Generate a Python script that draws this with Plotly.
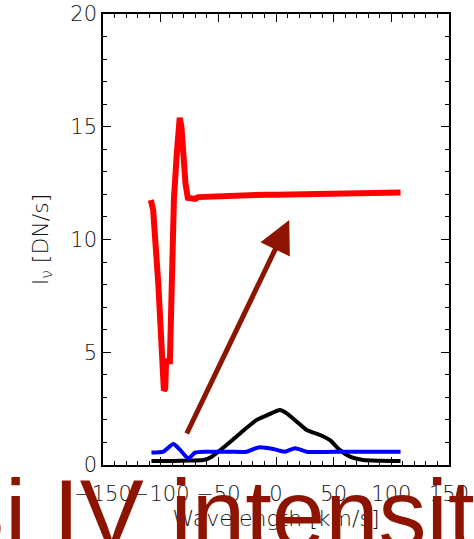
import plotly.graph_objects as go

# Data
red_x = [-108.5, -106.5, -102, -98.2, -97.2, -96, -95.3, -92, -89.5, -88.5, -86, -83.5, -82, -80, -78.5,
         -76.5, -73, -70, -67.5, -60, -50, -35, -20, -15, -8, 0, 25, 50, 75, 100, 108]
red_y = [11.75, 11.3, 8.0, 4.7, 3.3, 3.4, 4.6, 4.6, 11.5, 11.8, 13.8, 15.4, 15.0, 13.5, 12.5,
         11.85, 11.82, 11.8, 11.88, 11.9, 11.92, 11.95, 11.98, 12.03, 11.99, 11.98, 12.0, 12.03, 12.05, 12.07, 12.08]

black_x = [-108, -90, -75, -63, -55.7, -42.8, -31.2, -16.7, -8, 3.5, 9.3, 18, 26.6, 38.2, 46.8, 55.5, 64.2, 75.7, 90, 108]
black_y = [0.18, 0.18, 0.2, 0.22, 0.37, 0.89, 1.4, 2.0, 2.2, 2.44, 2.29, 1.92, 1.55, 1.33, 1.1, 0.66, 0.37, 0.22, 0.19, 0.18]

blue_x = [-108, -97.7, -89, -83.2, -76, -70.2, -60.1, -40, -25.4, -15.3, -2.3, 3.5, 7.8, 16.5, 26.6, 60, 108]
blue_y = [0.55, 0.59, 0.93, 0.67, 0.3, 0.55, 0.59, 0.59, 0.59, 0.78, 0.71, 0.63, 0.59, 0.74, 0.59, 0.59, 0.59]

arrow_tail = (-78.0, 1.33)
arrow_tip = (11.5, 10.86)

x_ticks = [-150, -100, -50, 0, 50, 100, 150]
y_ticks = [0, 5, 10, 15, 20]

title_text = "Si IV intensity"
dark_red = "rgb(140,20,0)"
tick_font = dict(family="DejaVu Sans", size=21, color="#111", weight=200)
label_font = dict(family="DejaVu Sans", size=22, color="#111", weight=200)

fig = go.Figure()
fig.add_trace(go.Scatter(x=red_x, y=red_y, mode="lines", line=dict(color="#ff0000", width=6)))
fig.add_trace(go.Scatter(x=black_x, y=black_y, mode="lines", line=dict(color="black", width=4, shape="spline", smoothing=0.6)))
fig.add_trace(go.Scatter(x=blue_x, y=blue_y, mode="lines", line=dict(color="#0000ff", width=4, shape="spline", smoothing=0.6)))

fig.add_annotation(x=arrow_tip[0], y=arrow_tip[1], ax=arrow_tail[0], ay=arrow_tail[1],
                   xref="x", yref="y", axref="x", ayref="y", text="", showarrow=True,
                   arrowhead=2, arrowsize=1.3, arrowwidth=5, arrowcolor=dark_red, standoff=0)

fig.add_annotation(x=0.373, y=0.016, xref="paper", yref="paper", yanchor="top", xanchor="center",
                   text=title_text, showarrow=False,
                   font=dict(family="Liberation Sans", size=96, color=dark_red))

axis_common = dict(showline=True, linecolor="black", linewidth=1.5, mirror="allticks",
                   ticks="inside", ticklen=8, tickwidth=1.2, tickcolor="black",
                   showgrid=False, zeroline=False, tickfont=tick_font, automargin=False)

fig.update_xaxes(range=[-150, 150], tickvals=x_ticks, tickangle=0, ticklabelstandoff=9, **axis_common,
                 minor=dict(ticks="inside", ticklen=4, dtick=10, tickwidth=1.2, tickcolor="black", showgrid=False),
                 title=dict(text="Wavelength [km/s]", font=label_font, standoff=4))
fig.update_yaxes(range=[0, 20], tickvals=y_ticks, **axis_common,
                 minor=dict(ticks="inside", ticklen=4, dtick=1, tickwidth=1.2, tickcolor="black", showgrid=False),
                 title=dict(text="I<sub>ν</sub> [DN/s]", font=label_font, standoff=16))

fig.update_layout(width=474, height=539, margin=dict(l=103, r=25, t=14, b=74),
                  plot_bgcolor="white", paper_bgcolor="white", showlegend=False)

fig.write_html("out.html")
